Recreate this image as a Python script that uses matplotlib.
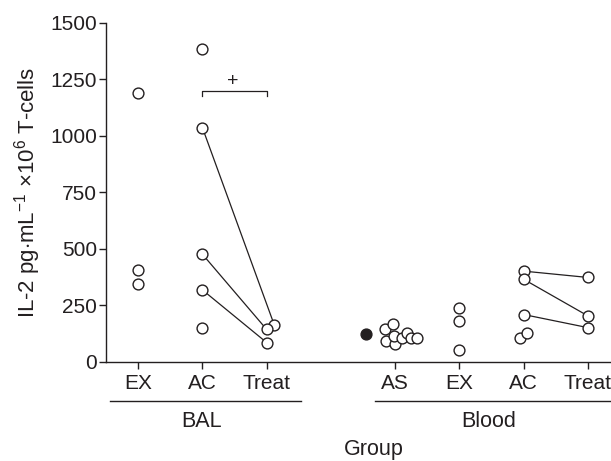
import numpy as np
import matplotlib
matplotlib.use('Agg')
import matplotlib.pyplot as plt

plt.rcParams['font.family'] = ['Liberation Sans', 'DejaVu Sans']
plt.rcParams['mathtext.fontset'] = 'custom'
plt.rcParams['mathtext.rm'] = 'Liberation Sans'

# tick labels
tick_pos = [1, 2, 3, 5, 6, 7, 8]
tick_labels = ['EX', 'AC', 'Treat', 'AS', 'EX', 'AC', 'Treat']

# BAL
bal_ex = [1188, 409, 343]
bal_ac = [1385, 1037, 477, 319, 151]
bal_treat = [163, 144, 86]
bal_ac_paired = [1037, 477, 319]
bal_treat_paired = [163, 144, 86]

# Blood
blood_as_filled = [124]
blood_as = [148, 166, 92, 78, 115, 106, 126, 106, 106]
blood_ex = [239, 183, 55]
blood_ac = [402, 366, 210, 106, 126]
blood_treat = [374, 204, 152]
blood_ac_paired = [402, 366, 210]
blood_treat_paired = [374, 204, 152]

# jitter (x offsets) for overlapping circles
bal_treat_dx = [0.12, 0.0, 0.0]
bal_treat_paired_dx = [0.12, 0.0, 0.0]
blood_as_dx = [-0.15, -0.03, -0.14, 0.0, -0.01, 0.10, 0.19, 0.24, 0.34]
blood_ac_dx = [0.0, 0.0, 0.0, -0.05, 0.05]

ink = '#231f20'
mk = dict(marker='o', ms=7.8, mfc='white', mec=ink, mew=1.0, ls='none', zorder=3, clip_on=False)

fig = plt.figure(figsize=(6.11, 4.61), dpi=100)
ax = fig.add_axes([0.1735, 0.2148, 0.8265, 0.7354])

# connecting lines
for a, b, d in zip(bal_ac_paired, bal_treat_paired, bal_treat_paired_dx):
    ax.plot([2, 3 + d], [a, b], color=ink, lw=0.9, zorder=2)
for a, b in zip(blood_ac_paired, blood_treat_paired):
    ax.plot([7, 8], [a, b], color=ink, lw=0.9, zorder=2)

ax.plot([1] * len(bal_ex), bal_ex, **mk)
ax.plot([2] * len(bal_ac), bal_ac, **mk)
ax.plot(3 + np.array(bal_treat_dx), bal_treat, **mk)

ax.plot([4.54], blood_as_filled, marker='o', ms=7.8, color=ink, ls='none', zorder=3)
ax.plot(5 + np.array(blood_as_dx), blood_as, **mk)
ax.plot([6] * len(blood_ex), blood_ex, **mk)
ax.plot(7 + np.array(blood_ac_dx), blood_ac, **mk)
ax.plot([8] * len(blood_treat), blood_treat, **mk)

# significance bracket
ax.plot([2, 2, 3, 3], [1175, 1197, 1197, 1175], color=ink, lw=0.9)
ax.text(2.47, 1203, '+', ha='center', va='bottom', fontsize=14, color=ink)

ax.set_xlim(0.5, 8.36)
ax.set_ylim(0, 1500)
ax.set_yticks([0, 250, 500, 750, 1000, 1250, 1500])
ax.set_xticks(tick_pos)
ax.set_xticklabels(tick_labels)
ax.spines['top'].set_visible(False)
ax.spines['right'].set_visible(False)
for s in ['left', 'bottom']:
    ax.spines[s].set_color(ink)
    ax.spines[s].set_linewidth(1.0)
ax.tick_params(axis='both', direction='out', length=5, width=1.0, color=ink,
               labelsize=15, labelcolor=ink)
ax.tick_params(axis='y', pad=1.5)
ax.tick_params(axis='x', pad=4)

ax.set_ylabel(r'IL-2 pg$\cdot$mL$^{-1}$ $\times$10$^{6}$ T-cells', fontsize=16, color=ink, labelpad=5)

# group lines and labels
tr = ax.get_xaxis_transform()
ax.plot([0.56, 3.535], [-0.114, -0.114], transform=tr, color=ink, lw=1.0, clip_on=False)
ax.plot([4.68, 8.5], [-0.114, -0.114], transform=tr, color=ink, lw=1.0, clip_on=False)
fig.text(202 / 611, 1 - 421 / 461, 'BAL', ha='center', va='center', fontsize=15.5, color=ink)
fig.text(489 / 611, 1 - 421 / 461, 'Blood', ha='center', va='center', fontsize=15.5, color=ink)
fig.text(374 / 611, 1 - 449 / 461, 'Group', ha='center', va='center', fontsize=15.5, color=ink)

fig.savefig('out.png', dpi=100)
